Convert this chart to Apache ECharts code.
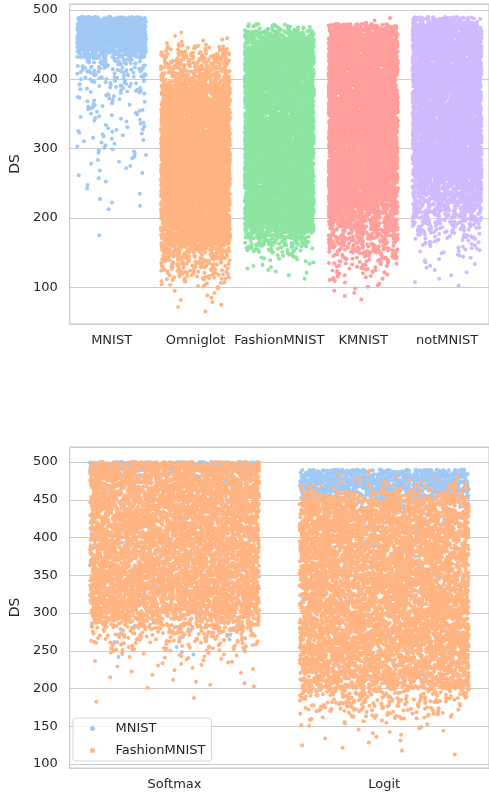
<!DOCTYPE html>
<html><head><meta charset="utf-8">
<script src="https://cdn.jsdelivr.net/npm/echarts@6/dist/echarts.min.js"></script>
<style>html,body{margin:0;padding:0;background:#fff}#c{width:489px;height:797px}</style>
</head><body><div id="c"></div>
<script>
// ---------- top panel: DS per dataset (counts per 10-unit DS bin, bins start at 60) ----------
const topCategories = ['MNIST', 'Omniglot', 'FashionMNIST', 'KMNIST', 'notMNIST'];
const topColors = ['#a1c9f4', '#ffb482', '#8de5a1', '#ff9f9b', '#d0bbff'];
const topBinStart = 60;
const binWidth = 10;
const mnistBins =        [0,0,0,0,0,0,0,0,0,0,0, 1,0,0,0,2,2,1,2,2,3,3,4,6,5,6,8,6,8,8,10,10,15,20,25,30,35,75,200,230,230,230,220,0];
const omniglotBins =     [1,3,3,3,12,28,35,45,65,100,170, 220,220,220,220,220,220,220,220,220,220,220,220,220,220,220,220,220,220,220,220,220,200, 110,75,68,62,50,25,6,2,0,0,0];
const fashionBins =      [0,0,0,0,0, 2,5,6,12,30,55,95,160, 220,220,220,220,220,220,220,220,220,220,220,220,220,220,220,220,220,220,220,220,220,220,220,220,220,220,210, 110,35,0,0];
const kmnistBins =       [0,0, 2,3,5,10,15,22,30,45,55,65,80,100,120,145,175, 205,220,220,220,220,220,220,220,220,220,220,220,220,220,220,220,220,220,220,220,220,220,220,210, 110,3,0];
const notmnistBins =     [0,0,0,0, 2,2,3,4,6,10,15,25,35,48,65,85,100,115,130,150,190, 215,220,220,220,220,220,220,220,220,220,220,220,220,220,220,220,220,220,220,220,220, 110,0];
const topTicks = [100, 200, 300, 400, 500];

// ---------- bottom panel: DS per output type (bins start at 110) ----------
const botCategories = ['Softmax', 'Logit'];
const botBinStart = 110;
const softmaxMnistBins =   [0,0,0,0,0,0,0,0,0,0,0,0,0, 3,3,3,4,5,6, 14,14,14,14,14,14,14,14,14,14,14,14,14,14, 24,24,24,24, 70,550];
const logitMnistBins =     [0,0,0,0,0,0,0,0,0, 2,2,3,3,4, 9,9,9,9,9,9,9,9,9,9,9,9,9,9,9,9,9,9,9, 45,170,330,380,330,0];
const softmaxFashionBins = [0,0,0,0,0,0,0, 2,0,5,3,6,10,15,35,50,75,125,190, 280,280,280,280,280,280,280,280,280,280,280,280,280,280,280,280,280,280,280,270];
const logitFashionBins =   [2,3,4,6,10,35,50,70,90, 230,240,240,240,240, 280,280,280,280,280,280,280,280,280,280,280,280,280,280,280,280,280,280,280, 260,140,38,15,3,0];
const botTicks = [100, 150, 200, 250, 300, 350, 400, 450, 500];
const hueNames = ['MNIST', 'FashionMNIST'];
const hueColors = ['#a1c9f4', '#ffb482'];

// spread each bin's count through the bin
function expand(counts, start, xIndex) {
  const pts = [];
  counts.forEach((n, i) => {
    const lo = start + i * binWidth;
    for (let k = 0; k < n; k++) pts.push([xIndex, lo + binWidth * (k + 0.5) / n]);
  });
  return pts;
}

const txt = '#262626';
const font = 'DejaVu Sans';
function yAxis(gridIndex, min, max, splitNumber, ticks) {
  return {
    gridIndex, type: 'value', min, max, splitNumber,
    axisLine: { show: false }, axisTick: { show: false },
    axisLabel: {
      color: txt, fontSize: 13, fontFamily: font, margin: 12,
      showMinLabel: false, showMaxLabel: false,
      formatter: v => ticks.some(t => Math.abs(t - v) < 1e-6) ? String(Math.round(v)) : ''
    },
    splitLine: { show: true, lineStyle: { color: '#cccccc', width: 1 } },
    name: 'DS', nameLocation: 'middle', nameGap: 38,
    nameTextStyle: { color: txt, fontSize: 14, fontFamily: font }
  };
}
function xAxis(gridIndex, data, jitter) {
  return {
    gridIndex, type: 'category', data, boundaryGap: true,
    jitter, jitterOverlap: true,
    axisLine: { show: false }, axisTick: { show: false },
    splitLine: { show: false },
    axisLabel: { color: txt, fontSize: 13, fontFamily: font, margin: 10, interval: 0 }
  };
}
function scatter(name, xi, yi, color, data) {
  return {
    type: 'scatter', name, xAxisIndex: xi, yAxisIndex: yi,
    symbol: 'circle', symbolSize: 4, itemStyle: { color, opacity: 1 },
    data, silent: true, progressive: 0, animation: false
  };
}

const topBins = [mnistBins, omniglotBins, fashionBins, kmnistBins, notmnistBins];
const series = topBins.map((b, i) =>
  scatter('top-' + topCategories[i], 0, 0, topColors[i], expand(b, topBinStart, i)));
series.push(scatter(hueNames[0], 1, 1, hueColors[0],
  expand(softmaxMnistBins, botBinStart, 0).concat(expand(logitMnistBins, botBinStart, 1))));
series.push(scatter(hueNames[1], 1, 1, hueColors[1],
  expand(softmaxFashionBins, botBinStart, 0).concat(expand(logitFashionBins, botBinStart, 1))));

const chart = echarts.init(document.getElementById('c'), null, { renderer: 'canvas' });
chart.setOption({
  animation: false,
  backgroundColor: '#ffffff',
  grid: [
    { left: 66, right: -8, top: 4, height: 320, show: true, borderColor: '#cccccc', borderWidth: 1.25 },
    { left: 66, right: -7, top: 447, height: 321, show: true, borderColor: '#cccccc', borderWidth: 1.25 }
  ],
  xAxis: [xAxis(0, topCategories, 69), xAxis(1, botCategories, 169)],
  yAxis: [yAxis(0, 47.1, 508.65, 5, topTicks), yAxis(1, 94.7, 519.9, 8, botTicks)],
  legend: {
    data: hueNames.map(n => ({ name: n, icon: 'circle' })),
    orient: 'vertical', left: 73, top: 718,
    itemWidth: 36, itemHeight: 5, itemGap: 9,
    padding: [4, 6, 4, 17],
    selectedMode: false,
    backgroundColor: 'rgba(255,255,255,0.8)',
    borderColor: '#d6d6d6', borderWidth: 1, borderRadius: 3,
    textStyle: { color: txt, fontSize: 13, fontFamily: font, lineHeight: 13 }
  },
  series
});
</script></body></html>
